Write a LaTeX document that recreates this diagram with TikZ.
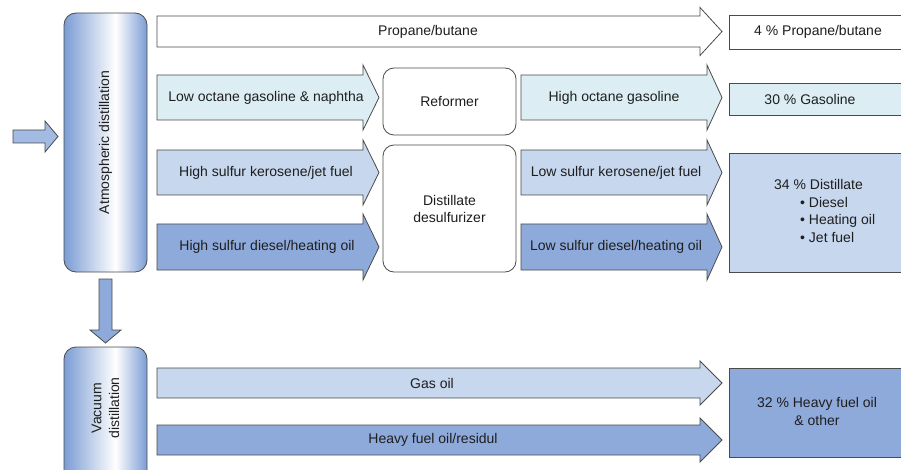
\documentclass[tikz,border=0pt]{standalone}
\usepackage{fontspec}
\setmainfont{Liberation Sans}
\definecolor{edge}{HTML}{4A4A4A}
\definecolor{ink}{HTML}{1E1E1E}
\definecolor{aqua}{HTML}{DCEEF4}
\definecolor{pale}{HTML}{C6D7EE}
\definecolor{mid}{HTML}{8EAADB}
\definecolor{colblue}{HTML}{7B9CD4}
\definecolor{feed}{HTML}{A3BAE2}
% blue-white-blue fill of the distillation columns
\pgfdeclarehorizontalshading{columnshade}{100bp}{color(0bp)=(colblue); color(25bp)=(colblue); color(56bp)=(white); color(75bp)=(colblue); color(100bp)=(colblue)}
% fat arrow: fill, left x, shaft top, shaft bottom, neck x, tip x, head overhang
\newcommand\blockarrow[7]{%
  \draw[flow, fill=#1] (#2,#3) -- (#5,#3) -- (#5,{#3-#7}) -- (#6,{(#3+#4)/2})
    -- (#5,{#4+#7}) -- (#5,#4) -- (#2,#4) -- cycle;}
\tikzset{
  flow/.style={draw=edge, line width=0.8pt, line join=miter},
  txt/.style={text=ink, inner sep=0pt, font=\fontsize{14}{17.5}\selectfont},
  unit/.style={draw=edge, line width=0.8pt, rounded corners=11pt, fill=white,
    inner sep=0pt, text=ink, align=center, font=\fontsize{14}{17}\selectfont},
  column/.style={draw=edge, line width=0.8pt, rounded corners=12pt,
    shading=columnshade, inner sep=0pt},
  product/.style={draw=edge, line width=0.8pt, inner sep=0pt, anchor=north west},
}
\begin{document}
\begin{tikzpicture}[x=1pt,y=-1pt]
\useasboundingbox (0,0) rectangle (901,470);

% distillation columns
\node[column, minimum width=83pt, minimum height=259pt] (atm) at (105.5,142.5) {};
\node[column, minimum width=83pt, minimum height=135pt] (vac) at (105.5,414.5) {};
\node[txt, rotate=90] (atmtext) at (atm) {Atmospheric distillation};
\node[txt, rotate=90, align=center] (vactext) at (105.5,408) {Vacuum\\distillation};

% crude feed and transfer to vacuum unit
\blockarrow{feed}{13}{130}{143}{45}{58}{9}
\draw[flow, fill=mid] (99,279) -- (112,279) -- (112,330) -- (121,330)
  -- (105.5,343) -- (90,330) -- (99,330) -- cycle;

% process units
\node[unit, minimum width=133pt, minimum height=67pt] (reformer) at (449.5,101.5) {Reformer};
\node[unit, minimum width=133pt, minimum height=127pt] (desulf) at (449.5,208.5) {Distillate\\desulfurizer};

% product boxes
\node[product, fill=white, minimum width=176pt, minimum height=34pt] (lpgbox) at (729,15) {};
\node[product, fill=aqua, minimum width=176pt, minimum height=32pt] (gasbox) at (729,83) {};
\node[product, fill=pale, minimum width=176pt, minimum height=119pt] (distbox) at (729,153) {};
\node[product, fill=mid, minimum width=176pt, minimum height=89pt] (heavybox) at (729,368) {};

% streams
\blockarrow{white}{157}{16}{47}{700}{722}{8.5}
\blockarrow{aqua}{157}{75}{120}{363}{379}{10}
\blockarrow{aqua}{521}{75}{120}{707}{722}{10}
\blockarrow{pale}{157}{150}{195}{363}{379}{10}
\blockarrow{pale}{521}{150}{195}{707}{722}{10}
\blockarrow{mid}{157}{224}{270}{363}{379}{10}
\blockarrow{mid}{521}{224}{270}{707}{722}{10}
\blockarrow{pale}{157}{368}{398}{700}{722}{7}
\blockarrow{mid}{157}{425}{455}{700}{722}{7}

% stream labels
\node[txt] (lpgflow) at (428,31.5) {Propane/butane};
\node[txt] (naphtha) at (266,97.5) {Low octane gasoline \& naphtha};
\node[txt] (reformate) at (614,97.5) {High octane gasoline};
\node[txt] (hskero) at (266,172.5) {High sulfur kerosene/jet fuel};
\node[txt] (lskero) at (616,172.5) {Low sulfur kerosene/jet fuel};
\node[txt] (hsdiesel) at (267,247) {High sulfur diesel/heating oil};
\node[txt] (lsdiesel) at (616,247) {Low sulfur diesel/heating oil};
\node[txt] (gasoil) at (432,383) {Gas oil};
\node[txt] (resid) at (433,440) {Heavy fuel oil/residul};

% product labels
\node[txt] (lpgout) at (818,32) {4 \% Propane/butane};
\node[txt] (gasout) at (810,99) {30 \% Gasoline};
\node[txt, align=left, anchor=west] (distout) at (774,211)
  {34 \% Distillate\\\hspace{26pt}\textbullet\ Diesel\\\hspace{26pt}\textbullet\ Heating oil\\\hspace{26pt}\textbullet\ Jet fuel};
\node[txt, align=center] (heavyout) at (817,411.5) {32 \% Heavy fuel oil\\\& other};
\end{tikzpicture}
\end{document}
